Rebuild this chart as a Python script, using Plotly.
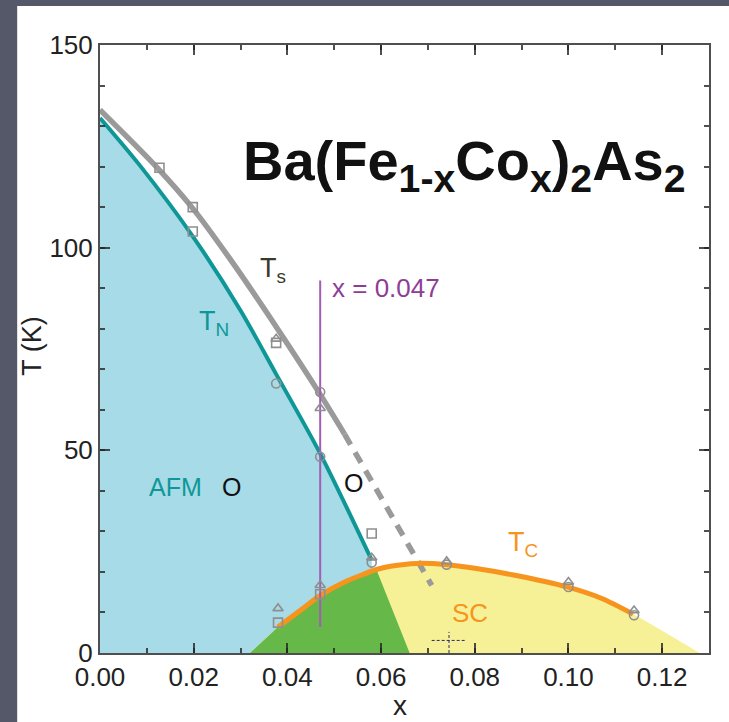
import plotly.graph_objects as go

# ---- data ----
tn_x = [0.0, 0.0085, 0.0198, 0.030, 0.0376, 0.047, 0.058]
tn_T = [132, 120.3, 102.8, 84.5, 68.8, 49.2, 22.9]

ts_x = [0.0, 0.012, 0.0198, 0.0285, 0.0376, 0.047, 0.0522]
ts_T = [134, 120, 109.7, 96, 80.5, 63.8, 54]

ts_dash_x = [0.0522, 0.0708]
ts_dash_T = [54, 16.7]

tc_x = [0.038, 0.043, 0.047, 0.052, 0.056, 0.059, 0.062, 0.0676, 0.074, 0.080, 0.088, 0.0997, 0.107, 0.1138]
tc_T = [6.4, 10.7, 14.2, 17.4, 19.3, 20.6, 21.4, 22.1, 21.8, 20.9, 19.3, 16.3, 13.5, 9.6]

sc_start_x, sc_end_x = 0.032, 0.128     # where SC dome meets T = 0
green_edge_x = 0.0661                   # AFM+SC coexistence region bottom-right corner

cut_x = 0.047
cut_T = [6.4, 91.9]

sq_x = [0.0127, 0.0198, 0.0198, 0.0376, 0.058, 0.038, 0.047]
sq_T = [119.7, 110, 104, 76.5, 29.5, 7.5, 14.5]
tri_x = [0.0376, 0.047, 0.058, 0.074, 0.100, 0.114, 0.038, 0.047]
tri_T = [77.5, 60.4, 23.5, 22.6, 17.5, 10.5, 11.0, 16.7]
cir_x = [0.0376, 0.047, 0.047, 0.058, 0.074, 0.100, 0.114]
cir_T = [66.5, 48.4, 64.4, 22.3, 21.8, 16.3, 9.3]

x_ticks = [0.00, 0.02, 0.04, 0.06, 0.08, 0.10, 0.12]
y_ticks = [0, 50, 100, 150]

# ---- styles ----
BLUE = "#a6dbe7"
GREEN = "#66b848"
YELLOW = "#f6f196"
ORANGE = "#f7941e"
TEAL = "#0f9797"
GRAY = "#9a9a9a"
PURPLE = "#a45cb4"
FRAME = "rgba(35,35,35,0.8)"
FONT = "Liberation Sans, Arial, sans-serif"

fig = go.Figure()

# AFM region (under T_N)
fig.add_trace(go.Scatter(x=tn_x, y=tn_T, mode="lines", line=dict(width=0, shape="spline", smoothing=0.8),
                         fill="tozeroy", fillcolor=BLUE, hoverinfo="skip"))
# SC dome (yellow)
fig.add_trace(go.Scatter(x=[sc_start_x] + tc_x + [sc_end_x], y=[0] + tc_T + [0], mode="lines",
                         line=dict(width=0, shape="spline", smoothing=0.6),
                         fill="tozeroy", fillcolor=YELLOW, hoverinfo="skip"))
# coexistence region (green)
n_g = tc_x.index(0.059) + 1
fig.add_trace(go.Scatter(x=[sc_start_x] + tc_x[:n_g] + [green_edge_x], y=[0] + tc_T[:n_g] + [0],
                         mode="lines", line=dict(width=0), fill="toself", fillcolor=GREEN, hoverinfo="skip"))

# lines
fig.add_trace(go.Scatter(x=tn_x, y=tn_T, mode="lines", line=dict(color=TEAL, width=4, shape="spline", smoothing=0.8)))
fig.add_trace(go.Scatter(x=ts_x, y=ts_T, mode="lines", line=dict(color=GRAY, width=5.5, shape="spline", smoothing=0.8)))
fig.add_trace(go.Scatter(x=ts_dash_x, y=ts_dash_T, mode="lines",
                         line=dict(color=GRAY, width=5.5, dash="12px,9px")))
fig.add_trace(go.Scatter(x=tc_x, y=tc_T, mode="lines", line=dict(color=ORANGE, width=5, shape="spline", smoothing=0.8)))
fig.add_trace(go.Scatter(x=[cut_x, cut_x], y=cut_T, mode="lines", line=dict(color=PURPLE, width=2)))

# data markers (open gray symbols)
mk = dict(color="#8f8f8f", size=9, line=dict(width=1.6))
fig.add_trace(go.Scatter(x=sq_x, y=sq_T, mode="markers", marker=dict(symbol="square-open", **mk)))
fig.add_trace(go.Scatter(x=tri_x, y=tri_T, mode="markers", marker=dict(symbol="triangle-up-open", **mk)))
fig.add_trace(go.Scatter(x=cir_x, y=cir_T, mode="markers", marker=dict(symbol="circle-open", **mk)))

# ---- annotations ----
def ann(text, x, y, color, size=27, xanchor="left", yanchor="middle", xref="x", yref="y", angle=0):
    fig.add_annotation(text=text, x=x, y=y, xref=xref, yref=yref, showarrow=False,
                       xanchor=xanchor, yanchor=yanchor, textangle=angle,
                       font=dict(family=FONT, size=size, color=color))

ann("<b>Ba(Fe<sub>1-x</sub>Co<sub>x</sub>)<sub>2</sub>As<sub>2</sub></b>", 0.0302, 120.5, "#111111", size=56)
ann("T<sub>s</sub>", 0.0338, 94.5, "#3a3a2a", size=27)
ann("T<sub>N</sub>", 0.0207, 81.5, TEAL, size=27)
ann("x = 0.047", 0.0490, 90.0, "#8e3d96", size=26)
ann("AFM", 0.0161, 40.9, TEAL, size=25, xanchor="center")
ann("O", 0.0280, 40.9, "#111111", size=25, xanchor="center")
ann("O", 0.0542, 41.9, "#111111", size=25, xanchor="center")
ann("T<sub>C</sub>", 0.0866, 27.0, ORANGE, size=27)
ann("SC", 0.0790, 9.8, ORANGE, size=26, xanchor="center")
ann("T (K)", -0.111, 0.506, "#222222", size=27, xanchor="center", xref="paper", yref="paper", angle=-90)
ann("x", 0.492, -0.086, "#222222", size=28, xanchor="center", xref="paper", yref="paper")

# white panel on the dark slide background
fig.add_shape(type="rect", xref="paper", yref="paper", x0=-0.136, x1=1.05, y0=-0.13, y1=1.064,
              fillcolor="white", line=dict(width=0), layer="below")
# small cursor mark
fig.add_shape(type="line", x0=0.0708, x1=0.0782, y0=3.1, y1=3.1, line=dict(color="#2a2a6a", width=1, dash="3px,2px"))
fig.add_shape(type="line", x0=0.0745, x1=0.0745, y0=0.0, y1=5.2, line=dict(color="#2a2a6a", width=1, dash="3px,2px"))

axis_common = dict(showgrid=False, zeroline=False, showline=True, linecolor=FRAME, linewidth=2,
                   mirror="allticks", ticks="inside", tickcolor=FRAME, tickwidth=2, ticklen=10,
                   tickfont=dict(family=FONT, size=26, color="#222222"))

fig.update_layout(
    width=729, height=722, autosize=False,
    margin=dict(l=100, r=20, t=45, b=69),
    paper_bgcolor="#555869", plot_bgcolor="white",
    showlegend=False,
    xaxis=dict(range=[0, 0.13], tickvals=x_ticks, tickformat=".2f",
               minor=dict(dtick=0.01, tick0=0, ticks="inside", ticklen=5, tickwidth=2, tickcolor=FRAME),
               **axis_common),
    yaxis=dict(range=[0, 150], tickvals=y_ticks,
               minor=dict(dtick=10, tick0=0, ticks="inside", ticklen=5, tickwidth=2, tickcolor=FRAME),
               **axis_common),
)

fig.write_html("out.html")
